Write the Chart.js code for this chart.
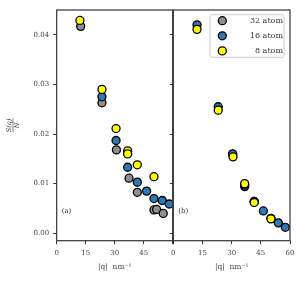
<!DOCTYPE html>
<html>
<head>
<meta charset="utf-8">
<script src="https://cdn.jsdelivr.net/npm/chart.js@4/dist/chart.umd.min.js"></script>
<style>
  body { margin: 0; background: #fff; }
  #wrap { position: relative; width: 305px; height: 284px; }
  #chart-a { position: absolute; left: 0; top: 0; }
  #chart-b { position: absolute; left: 160px; top: 0; }
</style>
</head>
<body>
<div id="wrap">
  <canvas id="chart-a" width="180" height="284"></canvas>
  <canvas id="chart-b" width="145" height="284"></canvas>
</div>
<script>
// Series labels and colours
const seriesLabels = ['32 atom', '16 atom', '8 atom'];
const seriesColors = ['#8f8f8f', '#2f78b4', '#ffff00'];

// Axis ticks
const qTicks = [0, 15, 30, 45, 60];
const sTicks = [0.00, 0.01, 0.02, 0.03, 0.04];

// Panel (a)
const qA32 = [12.4, 23.4, 30.9, 37.4, 41.7, 50.3, 51.7, 55.1];
const sA32 = [0.0417, 0.0263, 0.0168, 0.0111, 0.00825, 0.0047, 0.0048, 0.0040];
const qA16 = [23.4, 30.7, 36.7, 41.7, 46.5, 50.3, 54.6, 58.2];
const sA16 = [0.0275, 0.0187, 0.0133, 0.0103, 0.0085, 0.0070, 0.0066, 0.0059];
const qA8 = [12.0, 23.4, 30.7, 36.7, 36.7, 41.7, 50.3];
const sA8 = [0.0429, 0.0290, 0.0211, 0.0166, 0.0160, 0.0138, 0.0114];

// Panel (b)
const qB32 = [30.5, 36.7, 41.6];
const sB32 = [0.0159, 0.0094, 0.0064];
const qB16 = [12.2, 23.1, 30.5, 36.7, 41.6, 46.3, 50.2, 54.0, 57.6];
const sB16 = [0.0420, 0.0255, 0.0160, 0.0097, 0.0064, 0.0045, 0.0030, 0.0021, 0.0012];
const qB8 = [12.2, 23.1, 30.7, 36.7, 41.6, 50.2];
const sB8 = [0.0411, 0.0248, 0.0154, 0.0100, 0.0062, 0.0029];

const serif = '"DejaVu Serif", "Liberation Serif", serif';
const axisColor = '#333';

function toPoints(qs, ss) {
    return qs.map((q, i) => ({ x: q, y: ss[i] }));
}

function makeDatasets(groups) {
    // later series are drawn on top (8 atom over 16 over 32)
    return groups.map((g, i) => ({
        label: seriesLabels[i],
        data: toPoints(g[0], g[1]),
        backgroundColor: seriesColors[i],
        borderColor: '#000',
        borderWidth: 1.3,
        pointRadius: 4,
        pointHoverRadius: 4,
        order: groups.length - i,
        clip: 0
    }));
}

// Box around the plot area plus panel tag
const framePlugin = {
    id: 'frame',
    afterDraw(chart, args, opts) {
        const { ctx, chartArea: a } = chart;
        ctx.save();
        ctx.strokeStyle = axisColor;
        ctx.lineWidth = 1.2;
        ctx.strokeRect(a.left, a.top, a.right - a.left, a.bottom - a.top);
        ctx.fillStyle = '#333';
        ctx.font = '7px ' + serif;
        ctx.textBaseline = 'middle';
        ctx.fillText(opts.tag, a.left + 5, a.top + 0.872 * (a.bottom - a.top));
        ctx.restore();
    }
};

// Fraction y-label S(q)/N
const yLabelPlugin = {
    id: 'ylabel',
    afterDraw(chart, args, opts) {
        if (!opts.show) return;
        const { ctx, chartArea: a } = chart;
        ctx.save();
        ctx.translate(13, (a.top + a.bottom) / 2);
        ctx.rotate(-Math.PI / 2);
        ctx.fillStyle = '#333';
        ctx.textAlign = 'center';
        ctx.textBaseline = 'middle';
        ctx.font = 'italic 6.5px ' + serif;
        ctx.fillText('S(q)', 0, -3.5);
        ctx.strokeStyle = '#333';
        ctx.lineWidth = 0.6;
        ctx.beginPath();
        ctx.moveTo(-7, 0);
        ctx.lineTo(7, 0);
        ctx.stroke();
        ctx.fillText('N', 0, 4);
        ctx.restore();
    }
};

// Legend box in the upper right of panel (b)
const legendPlugin = {
    id: 'boxlegend',
    afterDraw(chart, args, opts) {
        if (!opts.show) return;
        const { ctx, chartArea: a } = chart;
        const x0 = a.right - 80, y0 = a.top + 4.7, w = 74, h = 42.6;
        ctx.save();
        ctx.fillStyle = 'rgba(255,255,255,0.85)';
        ctx.strokeStyle = '#cccccc';
        ctx.lineWidth = 1;
        ctx.beginPath();
        ctx.roundRect(x0, y0, w, h, 2);
        ctx.fill();
        ctx.stroke();
        ctx.font = '8px ' + serif;
        ctx.textBaseline = 'middle';
        ctx.textAlign = 'right';
        chart.data.datasets.forEach((ds, i) => {
            const yy = y0 + 6 + i * 15.1;
            ctx.beginPath();
            ctx.arc(x0 + 12.3, yy, 4, 0, Math.PI * 2);
            ctx.fillStyle = ds.backgroundColor;
            ctx.fill();
            ctx.lineWidth = 1.3;
            ctx.strokeStyle = '#000';
            ctx.stroke();
            ctx.fillStyle = '#333';
            ctx.fillText(ds.label, x0 + w - 1, yy);
        });
        ctx.restore();
    }
};

function makeChart(canvasId, groups, panel) {
    const isA = panel === 'a';
    return new Chart(document.getElementById(canvasId), {
        type: 'scatter',
        data: { datasets: makeDatasets(groups) },
        options: {
            responsive: false,
            animation: false,
            events: [],
            layout: { padding: { top: 10, right: isA ? 7.3 : 15, left: 0, bottom: 0 } },
            plugins: {
                legend: { display: false },
                tooltip: { enabled: false },
                frame: { tag: isA ? '(a)' : '(b)' },
                ylabel: { show: isA },
                boxlegend: { show: !isA }
            },
            scales: {
                x: {
                    type: 'linear',
                    min: qTicks[0],
                    max: qTicks[qTicks.length - 1],
                    afterBuildTicks: s => { s.ticks = qTicks.map(v => ({ value: v })); },
                    afterFit: s => { s.height = 43.3; },
                    ticks: {
                        color: '#444',
                        font: { family: serif, size: 7 },
                        padding: 5,
                        maxRotation: 0,
                        callback: v => (isA && v === 60) ? '' : String(v)
                    },
                    grid: { drawOnChartArea: false, drawTicks: true, tickLength: 3.5, color: axisColor, lineWidth: 1 },
                    border: { display: false },
                    title: {
                        display: true,
                        text: '|q|  nm\u207B\u00B9',
                        color: '#444',
                        font: { family: serif, size: 7.5 },
                        padding: { top: 2, bottom: 12 }
                    }
                },
                y: {
                    type: 'linear',
                    min: -0.0015,
                    max: 0.045,
                    afterBuildTicks: s => { s.ticks = sTicks.map(v => ({ value: v })); },
                    afterFit: s => { s.width = isA ? 56.7 : 13.3; },
                    ticks: {
                        display: isA,
                        color: '#444',
                        font: { family: serif, size: 7 },
                        padding: 4,
                        callback: v => v.toFixed(2)
                    },
                    grid: { drawOnChartArea: false, drawTicks: true, tickLength: 3.5, color: axisColor, lineWidth: 1 },
                    border: { display: false }
                }
            }
        },
        plugins: [framePlugin, yLabelPlugin, legendPlugin]
    });
}

document.addEventListener('DOMContentLoaded', () => {
    makeChart('chart-a', [[qA32, sA32], [qA16, sA16], [qA8, sA8]], 'a');
    makeChart('chart-b', [[qB32, sB32], [qB16, sB16], [qB8, sB8]], 'b');
});
</script>
</body>
</html>
